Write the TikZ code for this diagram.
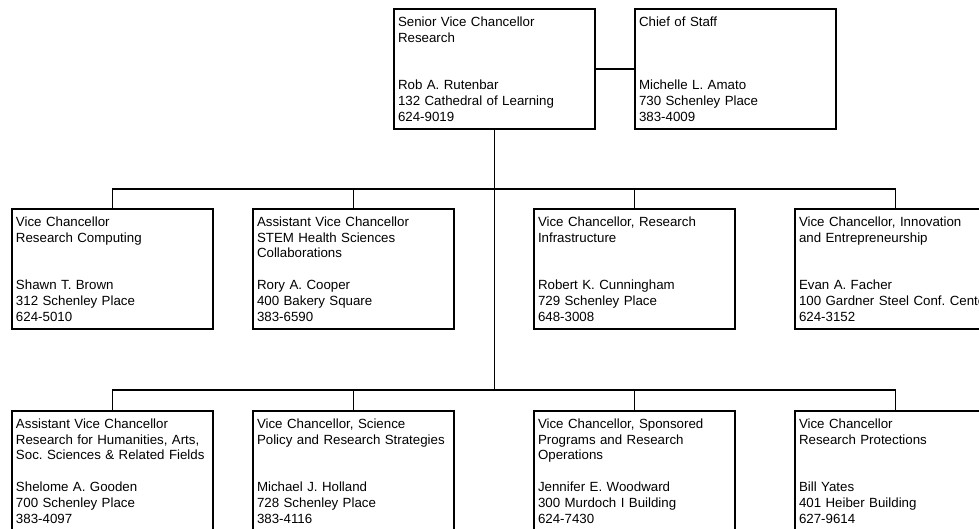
\documentclass[tikz,border=0pt]{standalone}
\usepackage{fontspec}
\setmainfont{Liberation Sans}
\usepackage{tikz}
\usetikzlibrary{calc}

\begin{document}
\begin{tikzpicture}[x=1pt,y=-1pt,
  unit/.style={draw, line width=1.3pt, anchor=north west, outer sep=0pt,
    inner xsep=4pt, text width=193pt, minimum height=120pt, align=left,
    font=\fontsize{13.3}{15.8}\selectfont\frenchspacing},
  link/.style={line width=1.1pt}]
\useasboundingbox (0,0) rectangle (979,529);
\clip (0,0) rectangle (979,529);

% top
\node[unit] (svc) at (394,9) {Senior Vice Chancellor\\Research\\\mbox{}\\\mbox{}\\Rob A. Rutenbar\\132 Cathedral of Learning\\624-9019};
\node[unit] (cos) at (635,9) {Chief of Staff\\\mbox{}\\\mbox{}\\\mbox{}\\Michelle L. Amato\\730 Schenley Place\\383-4009};

% first row
\node[unit] (rc) at (12,209) {Vice Chancellor\\Research Computing\\\mbox{}\\\mbox{}\\Shawn T. Brown\\312 Schenley Place\\624-5010};
\node[unit] (stem) at (253,209) {Assistant Vice Chancellor\\STEM Health Sciences\\Collaborations\\\mbox{}\\Rory A. Cooper\\400 Bakery Square\\383-6590};
\node[unit] (infra) at (534,209) {Vice Chancellor, Research\\Infrastructure\\\mbox{}\\\mbox{}\\Robert K. Cunningham\\729 Schenley Place\\648-3008};
\node[unit] (innov) at (795,209) {Vice Chancellor, Innovation\\and Entrepreneurship\\\mbox{}\\\mbox{}\\Evan A. Facher\\100 Gardner Steel Conf. Center\\624-3152};

% second row
\node[unit] (hum) at (12,411) {Assistant Vice Chancellor\\Research for Humanities, Arts,\\Soc. Sciences \& Related Fields\\\mbox{}\\Shelome A. Gooden\\700 Schenley Place\\383-4097};
\node[unit] (policy) at (253,411) {Vice Chancellor, Science\\Policy and Research Strategies\\\mbox{}\\\mbox{}\\Michael J. Holland\\728 Schenley Place\\383-4116};
\node[unit] (spons) at (534,411) {Vice Chancellor, Sponsored\\Programs and Research\\Operations\\\mbox{}\\Jennifer E. Woodward\\300 Murdoch I Building\\624-7430};
\node[unit] (prot) at (795,411) {Vice Chancellor\\Research Protections\\\mbox{}\\\mbox{}\\Bill Yates\\401 Heiber Building\\627-9614};

\path (svc.south) ++(0,60) coordinate (bus1) ++(0,201) coordinate (bus2);

\draw[link] (svc.east) -- (cos.west);
\draw[link] (svc.south) -- (bus2);
\draw[link] (rc.north) |- (bus1) -| (innov.north);
\draw[link] (hum.north) |- (bus2) -| (prot.north);
\foreach \n/\m in {stem/bus1,infra/bus1,policy/bus2,spons/bus2}
  \draw[link] (\n.north) -- (\n.north |- \m);
\end{tikzpicture}
\end{document}
